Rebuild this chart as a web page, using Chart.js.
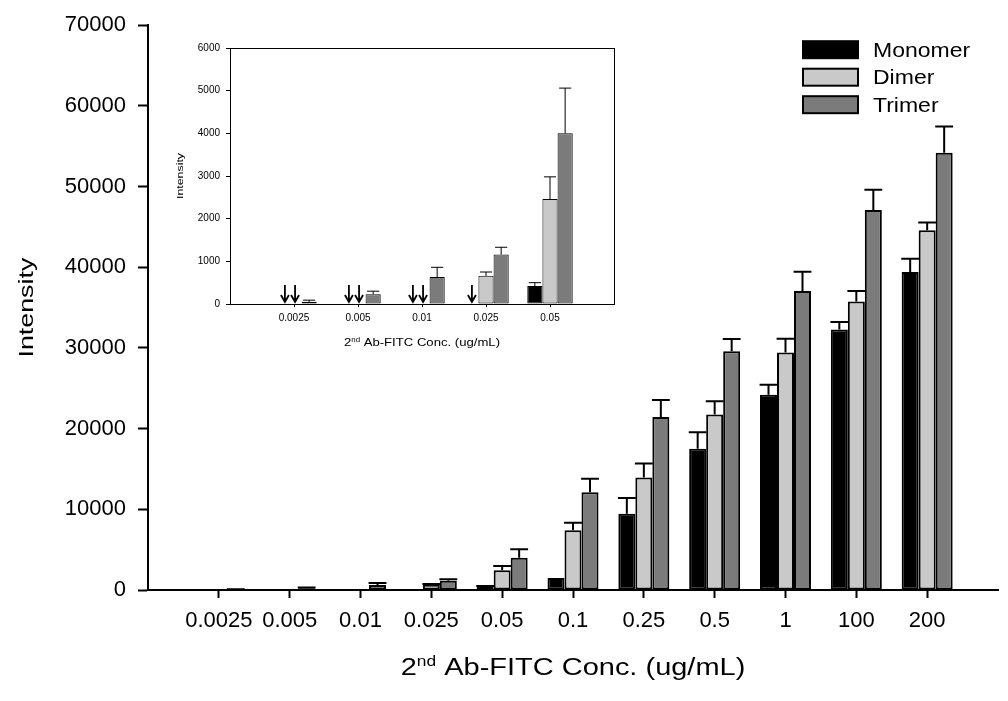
<!DOCTYPE html>
<html><head><meta charset="utf-8">
<script src="https://cdn.jsdelivr.net/npm/chart.js@4.4.1/dist/chart.umd.min.js"></script>
<style>
html,body{margin:0;padding:0;background:#fff;}
#wrap{position:relative;width:1008px;height:701px;overflow:hidden;}
#main{position:absolute;left:0;top:0;}
#inset{position:absolute;left:160px;top:30px;}
</style></head><body>
<div id="wrap">
<canvas id="main" width="1008" height="701"></canvas>
<canvas id="inset" width="470" height="330"></canvas>
</div>
<script>
// ---------- data ----------
const categories = ['0.0025','0.005','0.01','0.025','0.05','0.1','0.25','0.5','1','100','200'];
const insetCount = 5; // inset shows the first five concentrations
const seriesNames = ['Monomer','Dimer','Trimer'];
const monomer = [null,null,null,null,420,1500,9450,17500,24200,32300,39400];
const dimer   = [null,null,null,660,2460,7400,13950,21750,29450,35750,44600];
const trimer  = [50,230,630,1160,4000,12100,21450,29600,37050,47100,54200];
const monomerErr = [0,0,0,0,80,0,1950,2050,1250,900,1650];
const dimerErr   = [0,0,0,90,520,950,1730,1650,1700,1300,950];
const trimerErr  = [40,70,230,170,1060,1700,2100,1500,2400,2500,3250];
const mainYTicks  = [0,10000,20000,30000,40000,50000,60000,70000];
const insetYTicks = [0,1000,2000,3000,4000,5000,6000];
const xTitleParts = [{t:'2'},{t:'nd',sup:true},{t:' Ab-FITC Conc. (ug/mL)'}];
const yTitle = 'Intensity';

// ---------- style ----------
const FONT = "'Liberation Sans', Arial, Helvetica, sans-serif";
const colors = ['#000000','#c9c9c9','#7b7b7b'];
Chart.defaults.font.family = FONT;
Chart.defaults.color = '#000';
Chart.defaults.animation = false;

const pad = a => ['', ...a, ''];
const padD = a => [null, ...a, null];

function drawText(ctx, parts, cx, cy, size, stretch, rotate) {
  ctx.save();
  ctx.fillStyle = '#000';
  ctx.textBaseline = 'alphabetic';
  ctx.textAlign = 'left';
  let total = 0;
  const widths = parts.map(p => {
    ctx.font = (p.sup ? size * 0.6 : size) + 'px ' + FONT;
    const w = ctx.measureText(p.t).width;
    total += w;
    return w;
  });
  ctx.translate(cx, cy);
  if (rotate) ctx.rotate(-Math.PI / 2);
  ctx.scale(stretch, 1);
  let x = -total / 2;
  const base = size * 0.36;
  parts.forEach((p, i) => {
    ctx.font = (p.sup ? size * 0.6 : size) + 'px ' + FONT;
    ctx.fillText(p.t, x, p.sup ? base - size * 0.4 : base);
    x += widths[i];
  });
  ctx.restore();
}

const errorBars = {
  id: 'errorBars',
  afterDatasetsDraw(chart, args, opts) {
    const ctx = chart.ctx, ys = chart.scales.y;
    ctx.save();
    ctx.strokeStyle = '#000';
    ctx.lineWidth = opts.lineWidth;
    chart.data.datasets.forEach((ds, i) => {
      const meta = chart.getDatasetMeta(i);
      meta.data.forEach((el, j) => {
        const v = ds.data[j], e = ds.errors[j];
        if (v == null || !e) return;
        const yTop = ys.getPixelForValue(v + e);
        const half = el.width * opts.cap / 2;
        ctx.beginPath();
        ctx.moveTo(el.x, el.y);
        ctx.lineTo(el.x, yTop);
        ctx.moveTo(el.x - half, yTop);
        ctx.lineTo(el.x + half, yTop);
        ctx.stroke();
      });
    });
    ctx.restore();
  }
};

const titles = {
  id: 'titles',
  afterDraw(chart, args, o) {
    const ctx = chart.ctx, ca = chart.chartArea;
    drawText(ctx, xTitleParts, (ca.left + ca.right) / 2, o.xTitleY, o.xSize, o.xStretch, false);
    drawText(ctx, [{t: yTitle}], o.yTitleX, (ca.top + ca.bottom) / 2, o.ySize, o.yStretch, true);
  }
};

const legendBox = {
  id: 'legendBox',
  afterDraw(chart) {
    const ctx = chart.ctx, ca = chart.chartArea;
    const bx = ca.right - 195, tx = ca.right - 125;
    chart.data.datasets.forEach((ds, i) => {
      const top = ca.top + 16 + i * 27.5;
      ctx.save();
      ctx.fillStyle = ds.backgroundColor;
      ctx.fillRect(bx, top, 55, 17);
      ctx.strokeStyle = '#000';
      ctx.lineWidth = 2;
      ctx.strokeRect(bx, top, 55, 17);
      ctx.restore();
      ctx.save();
      ctx.font = '20px ' + FONT;
      ctx.fillStyle = '#000';
      ctx.textBaseline = 'alphabetic';
      ctx.translate(tx, top + 8.5 + 7.2);
      ctx.scale(1.15, 1);
      ctx.fillText(ds.label, 0, 0);
      ctx.restore();
    });
  }
};

const boxFrame = {
  id: 'boxFrame',
  afterDraw(chart) {
    const ctx = chart.ctx, ca = chart.chartArea;
    ctx.save();
    ctx.strokeStyle = '#000';
    ctx.lineWidth = 1;
    ctx.strokeRect(Math.round(ca.left) + 0.5, Math.round(ca.top) + 0.5,
                   Math.round(ca.right - ca.left), Math.round(ca.bottom - ca.top));
    ctx.restore();
  }
};

const arrows = {
  id: 'arrows',
  afterDatasetsDraw(chart) {
    const ctx = chart.ctx, ys = chart.scales.y;
    const base = ys.getPixelForValue(0) - 2;
    const m = chart.getDatasetMeta(0), d = chart.getDatasetMeta(1);
    const mData = chart.data.datasets[0].data, dData = chart.data.datasets[1].data;
    const tData = chart.data.datasets[2].data;
    ctx.save();
    ctx.strokeStyle = '#000';
    ctx.lineWidth = 1.8;
    const arrow = x => {
      ctx.beginPath();
      ctx.moveTo(x, base - 17);
      ctx.lineTo(x, base);
      ctx.moveTo(x - 4, base - 7);
      ctx.lineTo(x, base);
      ctx.lineTo(x + 4, base - 7);
      ctx.stroke();
    };
    for (let j = 0; j < mData.length; j++) {
      if (tData[j] == null) continue;
      const mNull = mData[j] == null, dNull = dData[j] == null;
      const w = m.data[j].width || 14;
      if (mNull && dNull) {
        arrow(m.data[j].x + 0.4 * w);
        arrow(d.data[j].x + 0.07 * w);
      } else if (mNull) {
        arrow(m.data[j].x + 0.07 * w);
      }
    }
    ctx.restore();
  }
};

function makeDatasets(n, bw) {
  const vals = [monomer, dimer, trimer];
  const errs = [monomerErr, dimerErr, trimerErr];
  return seriesNames.map((name, i) => ({
    label: name,
    data: padD(vals[i].slice(0, n)),
    errors: padD(errs[i].slice(0, n)),
    backgroundColor: colors[i],
    borderColor: '#000',
    borderWidth: bw,
    borderSkipped: false
  }));
}

// ---------- main chart ----------
new Chart(document.getElementById('main'), {
  type: 'bar',
  data: { labels: pad(categories), datasets: makeDatasets(categories.length, 2) },
  options: {
    responsive: false,
    devicePixelRatio: 1,
    categoryPercentage: 0.72,
    barPercentage: 1.0,
    layout: { padding: { left: 0, top: 22, right: 10, bottom: 0 } },
    plugins: {
      legend: { display: false },
      tooltip: { enabled: false },
      errorBars: { lineWidth: 2, cap: 1.05 },
      titles: { xTitleY: 666.5, xSize: 23, xStretch: 1.26, yTitleX: 25.5, ySize: 20, yStretch: 1.34 }
    },
    scales: {
      x: {
        type: 'category',
        offset: false,
        afterFit: s => { s.height = 111; },
        border: { display: true, color: '#000', width: 2 },
        grid: {
          offset: false,
          drawOnChartArea: false, drawTicks: true, tickLength: 8, tickWidth: 2,
          tickColor: c => (c.index === 0 || c.index === categories.length + 1) ? 'rgba(0,0,0,0)' : '#000'
        },
        ticks: { autoSkip: false, maxRotation: 0, minRotation: 0, font: { size: 22 }, color: '#000', padding: 10 }
      },
      y: {
        min: mainYTicks[0], max: mainYTicks[mainYTicks.length - 1],
        afterFit: s => { s.width = 148; },
        afterBuildTicks: s => { s.ticks = mainYTicks.map(v => ({ value: v })); },
        border: { display: true, color: '#000', width: 2 },
        grid: { drawOnChartArea: false, drawTicks: true, tickLength: 10, tickWidth: 2, tickColor: '#000' },
        ticks: { font: { size: 22 }, color: '#000', padding: 12, callback: v => String(v) }
      }
    }
  },
  plugins: [errorBars, titles, legendBox]
});

// ---------- inset chart ----------
new Chart(document.getElementById('inset'), {
  type: 'bar',
  data: { labels: pad(categories.slice(0, insetCount)), datasets: makeDatasets(insetCount, 1) },
  options: {
    responsive: false,
    devicePixelRatio: 1,
    categoryPercentage: 0.71,
    barPercentage: 1.0,
    layout: { padding: { left: 0, top: 18, right: 16, bottom: 0 } },
    plugins: {
      legend: { display: false },
      tooltip: { enabled: false },
      errorBars: { lineWidth: 1, cap: 0.8 },
      titles: { xTitleY: 312, xSize: 10.5, xStretch: 1.25, yTitleX: 20, ySize: 9.5, yStretch: 1.3 }
    },
    scales: {
      x: {
        type: 'category',
        offset: false,
        afterFit: s => { s.height = 56; },
        border: { display: true, color: '#000', width: 1 },
        grid: {
          offset: false,
          drawOnChartArea: false, drawTicks: true, tickLength: 3, tickWidth: 1,
          tickColor: c => (c.index === 0 || c.index === insetCount + 1) ? 'rgba(0,0,0,0)' : '#000'
        },
        ticks: { autoSkip: false, maxRotation: 0, minRotation: 0, font: { size: 10 }, color: '#000', padding: 5 }
      },
      y: {
        min: insetYTicks[0], max: insetYTicks[insetYTicks.length - 1],
        afterFit: s => { s.width = 70; },
        afterBuildTicks: s => { s.ticks = insetYTicks.map(v => ({ value: v })); },
        border: { display: true, color: '#000', width: 1 },
        grid: { drawOnChartArea: false, drawTicks: true, tickLength: 4, tickWidth: 1, tickColor: '#000' },
        ticks: { font: { size: 10 }, color: '#000', padding: 6, callback: v => String(v) }
      }
    }
  },
  plugins: [errorBars, titles, boxFrame, arrows]
});
</script>
</body></html>
